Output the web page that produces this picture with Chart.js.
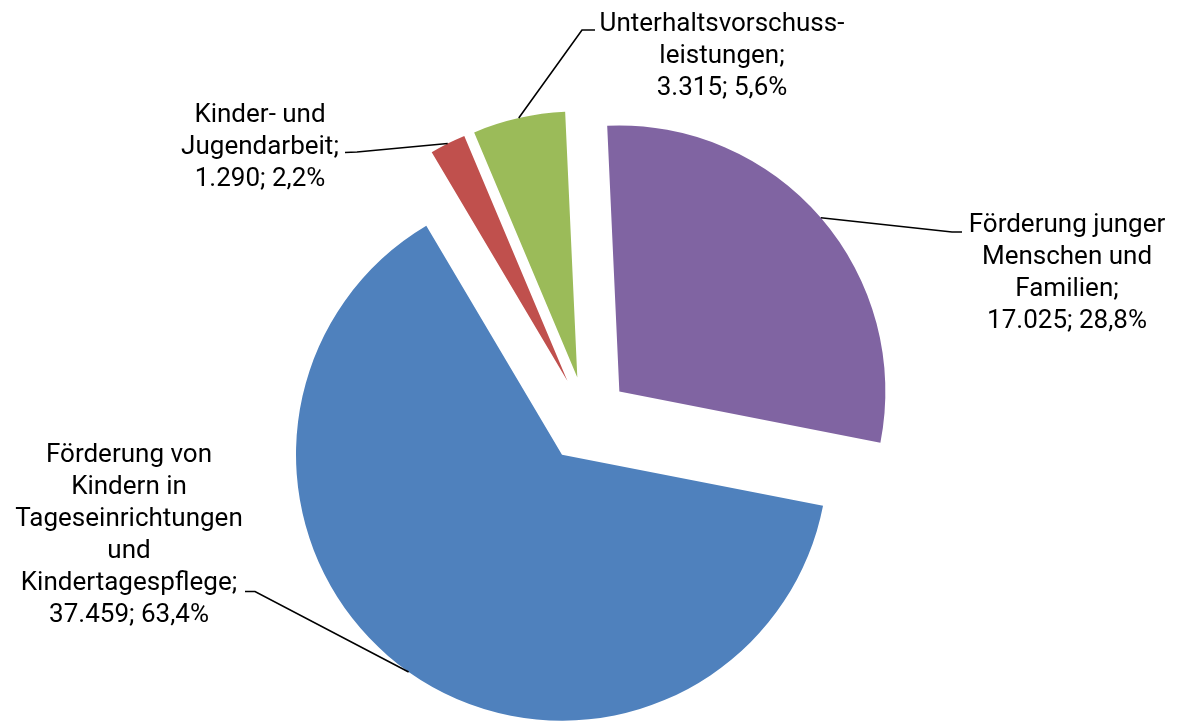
<!DOCTYPE html>
<html lang="de">
<head>
<meta charset="utf-8">
<title>Ausgaben der Kinder- und Jugendhilfe</title>
<script src="https://cdn.jsdelivr.net/npm/chart.js@4.4.1/dist/chart.umd.min.js"></script>
<style>
  html, body { margin: 0; padding: 0; background: #fff; }
  #wrap { width: 1183px; height: 722px; }
</style>
</head>
<body>
<div id="wrap"><canvas id="pieChart" width="1183" height="722"></canvas></div>
<script>
// Ausgaben nach Leistungsbereich (Mio. Euro), Reihenfolge im Uhrzeigersinn
const categories = [
  ["Förderung von", "Kindern in", "Tageseinrichtungen", "und", "Kindertagespflege"],
  ["Kinder- und", "Jugendarbeit"],
  ["Unterhaltsvorschuss-", "leistungen"],
  ["Förderung junger", "Menschen und", "Familien"]
];
const values = [37459, 1290, 3315, 17025];

const colors = ["#4f81bd", "#c0504d", "#9bbb59", "#8064a2"];

// where each label block sits (centre x, first baseline) and the knee of its leader line
const labelPlaces = [
  { x: 129, y: 461.5, elbow: [[255, 591.5], [245, 591.5]] },
  { x: 260, y: 121.5, elbow: [[357, 152], [345, 152.5]] },
  { x: 722, y: 31, elbow: [[582, 30], [595, 30]] },
  { x: 1067, y: 231.5, elbow: [[952, 232], [962, 232]] }
];

const EXPLODE = 43;
const LINE_HEIGHT = 32;

function fmtThousands(v) {
  return String(v).replace(/\B(?=(\d{3})+(?!\d))/g, ".");
}

function fmtPercent(p) {
  return p.toFixed(1).replace(".", ",");
}

// pushes every slice outwards along its own middle angle
const explodePlugin = {
  id: "explode",
  afterDatasetsUpdate(chart) {
    chart.getDatasetMeta(0).data.forEach(arc => {
      const mid = (arc.startAngle + arc.endAngle) / 2;
      arc.x += Math.cos(mid) * EXPLODE;
      arc.y += Math.sin(mid) * EXPLODE;
    });
  }
};

const labelPlugin = {
  id: "sliceLabels",
  afterDatasetsDraw(chart) {
    const ctx = chart.ctx;
    const arcs = chart.getDatasetMeta(0).data;
    const total = values.reduce((acc, v) => acc + v, 0);

    ctx.save();
    ctx.strokeStyle = "#000";
    ctx.lineWidth = 1.6;
    ctx.fillStyle = "#000";
    ctx.font = "26px Roboto";
    ctx.textAlign = "center";
    ctx.textBaseline = "alphabetic";

    arcs.forEach((arc, i) => {
      const mid = (arc.startAngle + arc.endAngle) / 2;
      const sx = arc.x + Math.cos(mid) * arc.outerRadius;
      const sy = arc.y + Math.sin(mid) * arc.outerRadius;
      const place = labelPlaces[i];

      ctx.beginPath();
      ctx.moveTo(sx, sy);
      place.elbow.forEach(([x, y]) => ctx.lineTo(x, y));
      ctx.stroke();

      const lines = categories[i].slice();
      lines[lines.length - 1] += ";";
      lines.push(`${fmtThousands(values[i])}; ${fmtPercent(values[i] / total * 100)}%`);
      lines.forEach((t, k) => ctx.fillText(t, place.x, place.y + k * LINE_HEIGHT));
    });
    ctx.restore();
  }
};

const ctx = document.getElementById("pieChart").getContext("2d");

new Chart(ctx, {
  type: "pie",
  data: {
    labels: categories.map(c => c.join(" ")),
    datasets: [{
      data: values,
      backgroundColor: colors,
      borderWidth: 0
    }]
  },
  options: {
    responsive: false,
    animation: false,
    events: [],
    rotation: 101.1,
    radius: 266,
    layout: { padding: { left: 0, right: 9.4, top: 117, bottom: 0 } },
    plugins: {
      legend: { display: false },
      tooltip: { enabled: false }
    }
  },
  plugins: [explodePlugin, labelPlugin]
});
</script>
</body>
</html>
